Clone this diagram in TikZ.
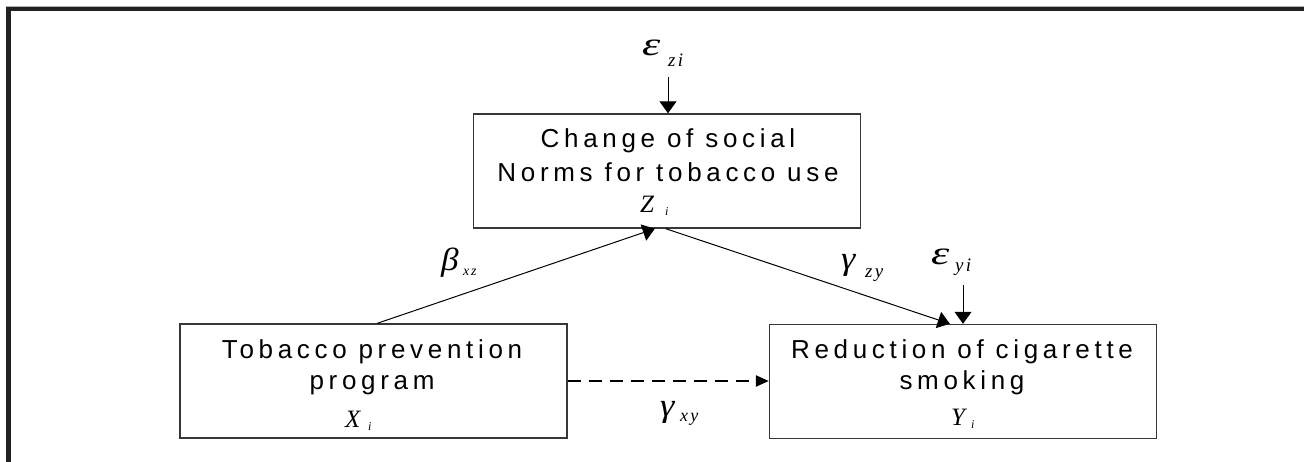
\documentclass[tikz,border=0pt]{standalone}
\usepackage{fontspec}
\usepackage{graphicx}
\setmainfont{Liberation Sans}
\newfontfamily\boxfont[LetterSpace=18]{Liberation Sans}
\newfontfamily\tms{Liberation Serif}
\newfontfamily\subfont[LetterSpace=12]{Liberation Serif}
\usetikzlibrary{arrows.meta}
\definecolor{framec}{RGB}{34,34,34}
\definecolor{boxc}{RGB}{55,55,55}
% #1 main size, #2 main glyph, #3 advance to sub, #4 lowering, #5 sub size, #6 sub text, #7 x-scale
\newcommand\mylab[7]{\makebox[#3][l]{\scalebox{#7}[1]{\fontsize{#1}{#1}\selectfont\tms\itshape #2}}\raisebox{-#4}{\fontsize{#5}{#5}\selectfont\subfont\itshape #6}}
\begin{document}
\begin{tikzpicture}[x=1pt,y=-1pt,
  framestyle/.style={draw=framec,line width=4.6pt},
  box/.style={draw=boxc,line width=1.4pt,fill=none,inner sep=0pt,minimum width=387pt,minimum height=114pt},
  btxt/.style={inner sep=0pt,anchor=base,font=\boxfont\fontsize{26}{30}\selectfont},
  lab/.style={inner sep=0pt,anchor=base west},
  conn/.style={draw=black,line width=1pt,-{Triangle[length=12pt,width=17pt]}},
  dconn/.style={draw=black,line width=2.3pt,dash pattern=on 13pt off 8pt,-{Triangle[length=13pt,width=11pt]}}]
\useasboundingbox (0,0) rectangle (1304,462);
\fill[white] (0,0) rectangle (1304,462);
% frame
\draw[framestyle] (1304,9) -- (8.5,9) -- (8.5,462);
\draw[gray!60,line width=1pt] (6,6.3) -- (1304,6.3);
% boxes
\node[box] (Z) at (667,171) {};
\node[box] (X) at (373.5,381) {};
\node[box] (Y) at (963,381.5) {};
% box texts
\node[btxt] (z1) at (668,148) {Change of social};
\node[btxt] (z2) at (668,182) {Norms for tobacco use};
\node[lab] (zi) at (640,213) {\mylab{25pt}{Z}{25pt}{3pt}{12pt}{i}{1}};
\node[btxt] (x1) at (372,359) {Tobacco prevention};
\node[btxt] (x2) at (372,389) {program};
\node[lab] (xi) at (345,427) {\mylab{25pt}{X}{23pt}{3pt}{12pt}{i}{1}};
\node[btxt] (y1) at (962,359) {Reduction of cigarette};
\node[btxt] (y2) at (962,389) {smoking};
\node[lab] (yi) at (951,425) {\mylab{25pt}{Y}{20pt}{3pt}{12pt}{i}{1}};
% labels
\node[lab] (ezi) at (642,56) {\mylab{33pt}{ε}{26pt}{11pt}{19pt}{zi}{1.4}};
\node[lab] (bxz) at (441,271) {\mylab{32pt}{β}{22pt}{5pt}{14pt}{xz}{1.1}};
\node[lab] (gzy) at (841,270) {\mylab{33pt}{γ}{24pt}{8pt}{19pt}{zy}{1.1}};
\node[lab] (eyi) at (931,265) {\mylab{33pt}{ε}{24pt}{7pt}{19pt}{yi}{1.4}};
\node[lab] (gxy) at (660,416) {\mylab{33pt}{γ}{20pt}{5pt}{18pt}{xy}{1.1}};
% connectors
\coordinate (ezitop) at (668,77);
\coordinate (eyitop) at (963,285);
\draw[conn] (ezitop) -- (ezitop |- Z.north);
\draw[conn] (eyitop) -- (eyitop |- Y.north);
\draw[conn] ([xshift=198pt]X.north west) -- ([xshift=182pt]Z.south west);
\draw[conn] ([xshift=193pt]Z.south west) -- ([xshift=181pt]Y.north west);
\draw[dconn] (X.east) -- (X.east -| Y.west);
\end{tikzpicture}
\end{document}
